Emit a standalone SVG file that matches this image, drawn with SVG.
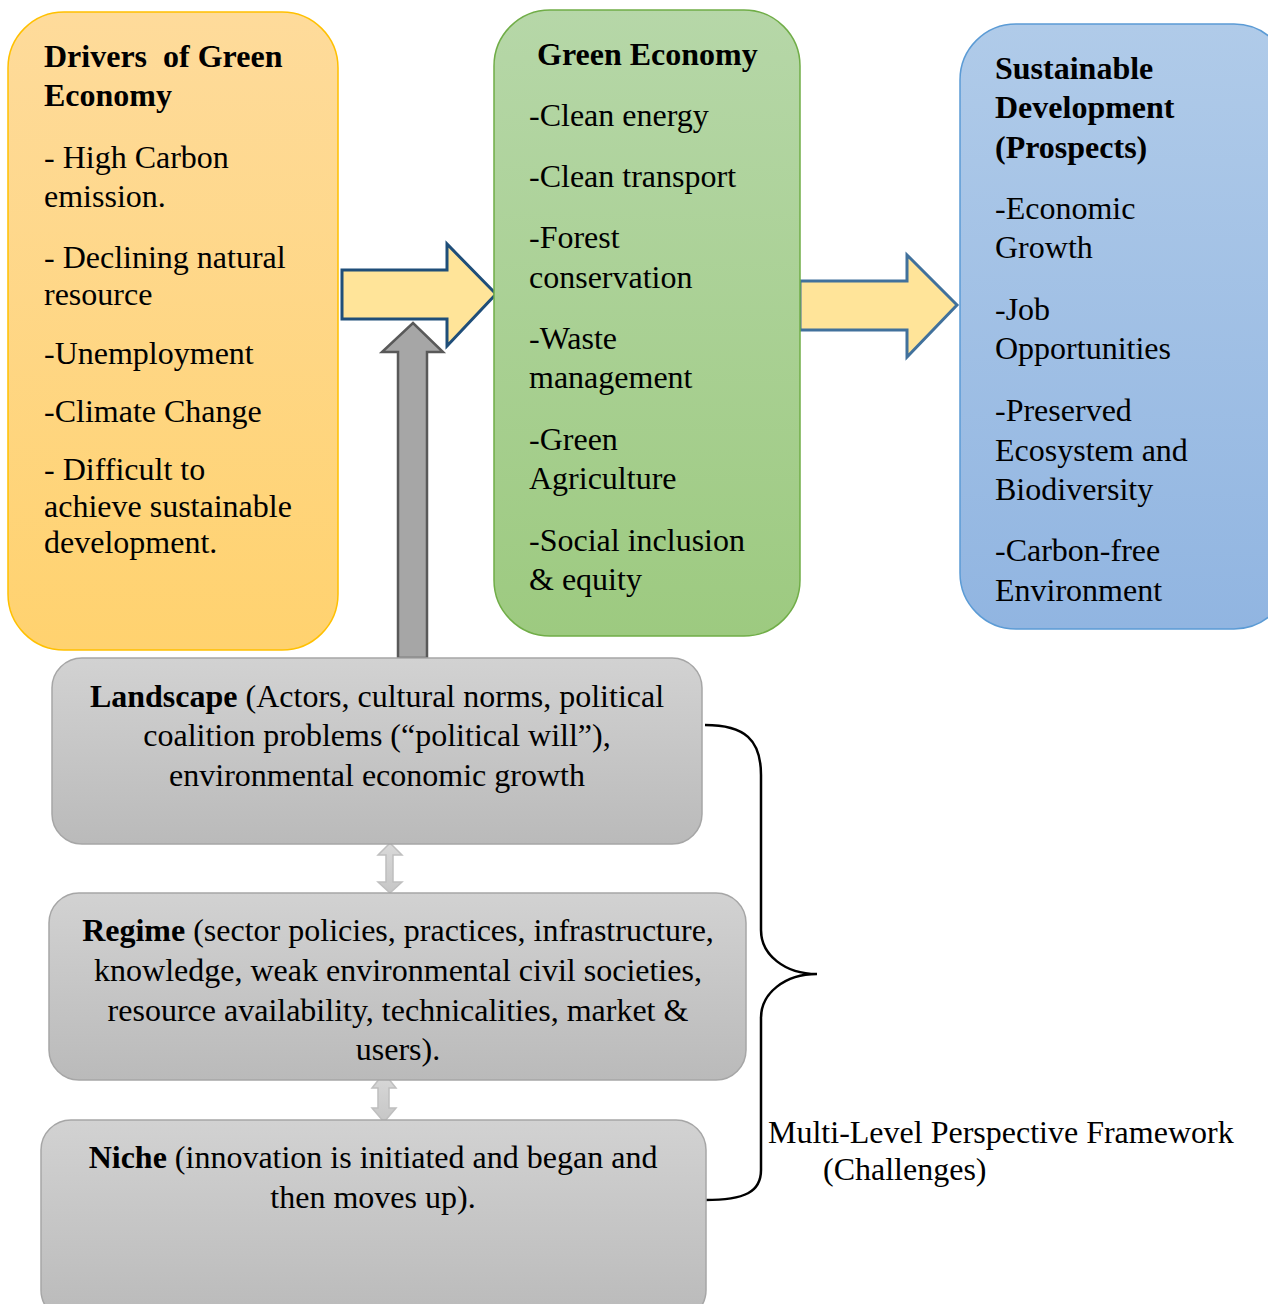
<svg xmlns="http://www.w3.org/2000/svg" width="1268" height="1304" viewBox="0 0 1268 1304">
<defs>
<linearGradient id="gO" x1="0" y1="0" x2="0" y2="1"><stop offset="0" stop-color="#fedb9b"/><stop offset="1" stop-color="#ffd26f"/></linearGradient>
<linearGradient id="gG" x1="0" y1="0" x2="0" y2="1"><stop offset="0" stop-color="#b6d7a8"/><stop offset="1" stop-color="#9dca80"/></linearGradient>
<linearGradient id="gB" x1="0" y1="0" x2="0" y2="1"><stop offset="0" stop-color="#b0cbe9"/><stop offset="1" stop-color="#91b5e1"/></linearGradient>
<linearGradient id="gS" x1="0" y1="0" x2="0" y2="1"><stop offset="0" stop-color="#d2d2d2"/><stop offset="1" stop-color="#bababa"/></linearGradient>
<linearGradient id="gD" x1="0" y1="0" x2="0" y2="1"><stop offset="0" stop-color="#d9d9d9"/><stop offset="1" stop-color="#c6c6c6"/></linearGradient>
</defs>
<style>
text{font-family:"Liberation Serif","Times New Roman",serif;font-size:32px;fill:#000}
.b{font-weight:bold}
.c{text-anchor:middle}
.gray{fill:url(#gS);stroke:#a6a6a6;stroke-width:1.5}
.yarrow{fill:#ffe499;stroke-width:3;stroke-linejoin:miter}
.dbl{fill:url(#gD);stroke:#bfbfbf;stroke-width:1.5}
</style>
<g id="connectors">
<polygon class="yarrow" stroke="#1f4e79" points="342,270 447,270 447,244 496,294 447,346 447,319 342,319"/>
<polygon class="yarrow" stroke="#41719c" points="800,281 907,281 907,255 957,305 907,357 907,330 800,330"/>
<polygon fill="#a6a6a6" stroke="#595959" stroke-width="2.5" points="398,658 398,352 382,352 413,323 443,352 427,352 427,658"/>
<polygon class="dbl" points="390,843 402,855 393,855 393,882 402,882 390,893 378,882 386,882 386,855 378,855"/>
<polygon class="dbl" points="384,1073 396,1088 389,1088 389,1108 396,1108 384,1122 372,1108 378,1108 378,1088 372,1088"/>
<path d="M705,725 C745,725 761,740 761,775 L761,930 C761,955 785,974 817,974 C785,974 761,993 761,1018 L761,1170 C761,1192 745,1200 705,1200" fill="none" stroke="#000" stroke-width="2.5"/>
</g>
<g id="drivers">
<rect x="8" y="12" width="330" height="638" rx="56" fill="url(#gO)" stroke="#ffc000" stroke-width="1.5"/>
<text class="b" x="44" y="67" xml:space="preserve">Drivers  of Green</text>
<text class="b" x="44" y="106">Economy</text>
<text x="44" y="168">- High Carbon</text>
<text x="44" y="207">emission.</text>
<text x="44" y="268">- Declining natural</text>
<text x="44" y="305">resource</text>
<text x="44" y="364">-Unemployment</text>
<text x="44" y="422">-Climate Change</text>
<text x="44" y="480">- Difficult to</text>
<text x="44" y="517">achieve sustainable</text>
<text x="44" y="553">development.</text>
</g>
<g id="green">
<rect x="494" y="10" width="306" height="626" rx="56" fill="url(#gG)" stroke="#70ad47" stroke-width="1.5"/>
<text class="b" x="537" y="65">Green Economy</text>
<text x="529" y="126">-Clean energy</text>
<text x="529" y="187">-Clean transport</text>
<text x="529" y="248">-Forest</text>
<text x="529" y="288">conservation</text>
<text x="529" y="349">-Waste</text>
<text x="529" y="388">management</text>
<text x="529" y="450">-Green</text>
<text x="529" y="489">Agriculture</text>
<text x="529" y="551">-Social inclusion</text>
<text x="529" y="590">&amp; equity</text>
</g>
<g id="sustainable">
<rect x="960" y="24" width="330" height="605" rx="56" fill="url(#gB)" stroke="#5b9bd5" stroke-width="1.5"/>
<text class="b" x="995" y="79">Sustainable</text>
<text class="b" x="995" y="118">Development</text>
<text class="b" x="995" y="158">(Prospects)</text>
<text x="995" y="219">-Economic</text>
<text x="995" y="258">Growth</text>
<text x="995" y="320">-Job</text>
<text x="995" y="359">Opportunities</text>
<text x="995" y="421">-Preserved</text>
<text x="995" y="461">Ecosystem and</text>
<text x="995" y="500">Biodiversity</text>
<text x="995" y="561">-Carbon-free</text>
<text x="995" y="601">Environment</text>
</g>
<g id="landscape">
<rect class="gray" x="52" y="658" width="650" height="186" rx="30"/>
<text class="c" x="377" y="707"><tspan class="b">Landscape</tspan> (Actors, cultural norms, political</text>
<text class="c" x="377" y="746">coalition problems (“political will”),</text>
<text class="c" x="377" y="786">environmental economic growth</text>
</g>
<g id="regime">
<rect class="gray" x="49" y="893" width="697" height="187" rx="30"/>
<text class="c" x="398" y="941"><tspan class="b">Regime</tspan> (sector policies, practices, infrastructure,</text>
<text class="c" x="398" y="981">knowledge, weak environmental civil societies,</text>
<text class="c" x="398" y="1021">resource availability, technicalities, market &amp;</text>
<text class="c" x="398" y="1060">users).</text>
</g>
<g id="niche">
<rect class="gray" x="41" y="1120" width="665" height="200" rx="30"/>
<text class="c" x="373" y="1168"><tspan class="b">Niche</tspan> (innovation is initiated and began and</text>
<text class="c" x="373" y="1208">then moves up).</text>
</g>
<g id="label">
<text x="768" y="1143">Multi-Level Perspective Framework</text>
<text x="823" y="1180">(Challenges)</text>
</g>
</svg>
